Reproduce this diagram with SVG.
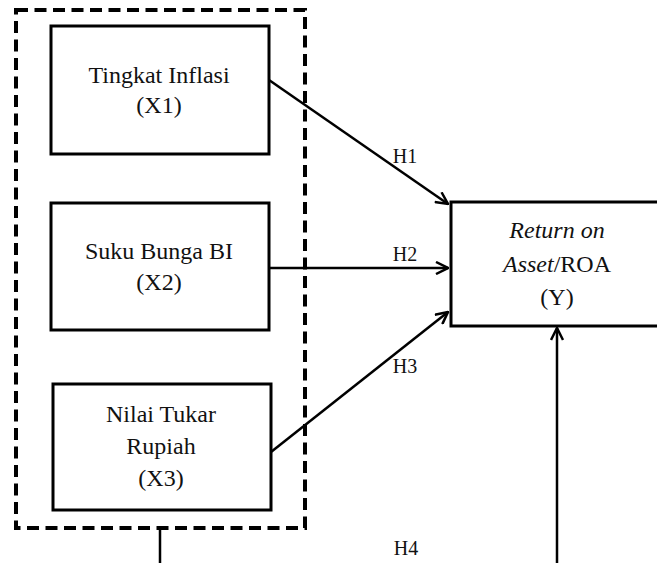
<svg xmlns="http://www.w3.org/2000/svg" width="657" height="563" viewBox="0 0 657 563">
<style>
.box{fill:#fff;stroke:#000;stroke-width:3}
.t{font-family:"Liberation Serif","Times New Roman",serif;font-size:24px;fill:#111;text-anchor:middle}
.c{fill:none;stroke:#000;stroke-width:2.5}
.lbl{font-family:"Liberation Serif","Times New Roman",serif;font-size:20px;fill:#111;text-anchor:middle}
</style>
<defs>
<marker id="ah" viewBox="0 0 14 14" refX="13" refY="7" markerWidth="14" markerHeight="14" markerUnits="userSpaceOnUse" orient="auto">
<path d="M1,1 L13,7 L1,13" fill="none" stroke="#000" stroke-width="2.5"/>
</marker>
</defs>
<rect width="657" height="563" fill="#fff"/>
<g id="group-x">
<rect x="16" y="10" width="289" height="518" fill="none" stroke="#000" stroke-width="4" stroke-dasharray="12 6.5"/>
</g>
<g id="connectors">
<line class="c" x1="269" y1="80" x2="448" y2="204" marker-end="url(#ah)"/>
<line class="c" x1="269" y1="268" x2="448" y2="268" marker-end="url(#ah)"/>
<line class="c" x1="271" y1="452" x2="448" y2="312" marker-end="url(#ah)"/>
<path class="c" d="M160,528 V564.6 H557 V328" marker-end="url(#ah)"/>
<text class="lbl" x="405" y="163">H1</text>
<text class="lbl" x="405" y="261">H2</text>
<text class="lbl" x="405" y="373">H3</text>
<text class="lbl" x="406" y="555">H4</text>
</g>
<g id="x1">
<rect class="box" x="51" y="26" width="218" height="128"/>
<text class="t" x="159" y="83">Tingkat Inflasi</text>
<text class="t" x="159" y="113">(X1)</text>
</g>
<g id="x2">
<rect class="box" x="51" y="203" width="218" height="127"/>
<text class="t" x="159" y="259">Suku Bunga BI</text>
<text class="t" x="159" y="290">(X2)</text>
</g>
<g id="x3">
<rect class="box" x="53" y="384" width="218" height="126"/>
<text class="t" x="161" y="422">Nilai Tukar</text>
<text class="t" x="161" y="454">Rupiah</text>
<text class="t" x="161" y="486">(X3)</text>
</g>
<g id="y">
<rect class="box" x="451" y="202" width="214" height="124"/>
<text class="t" x="557" y="238"><tspan font-style="italic">Return on</tspan></text>
<text class="t" x="557" y="272"><tspan font-style="italic">Asset</tspan>/ROA</text>
<text class="t" x="557" y="305">(Y)</text>
</g>
</svg>
